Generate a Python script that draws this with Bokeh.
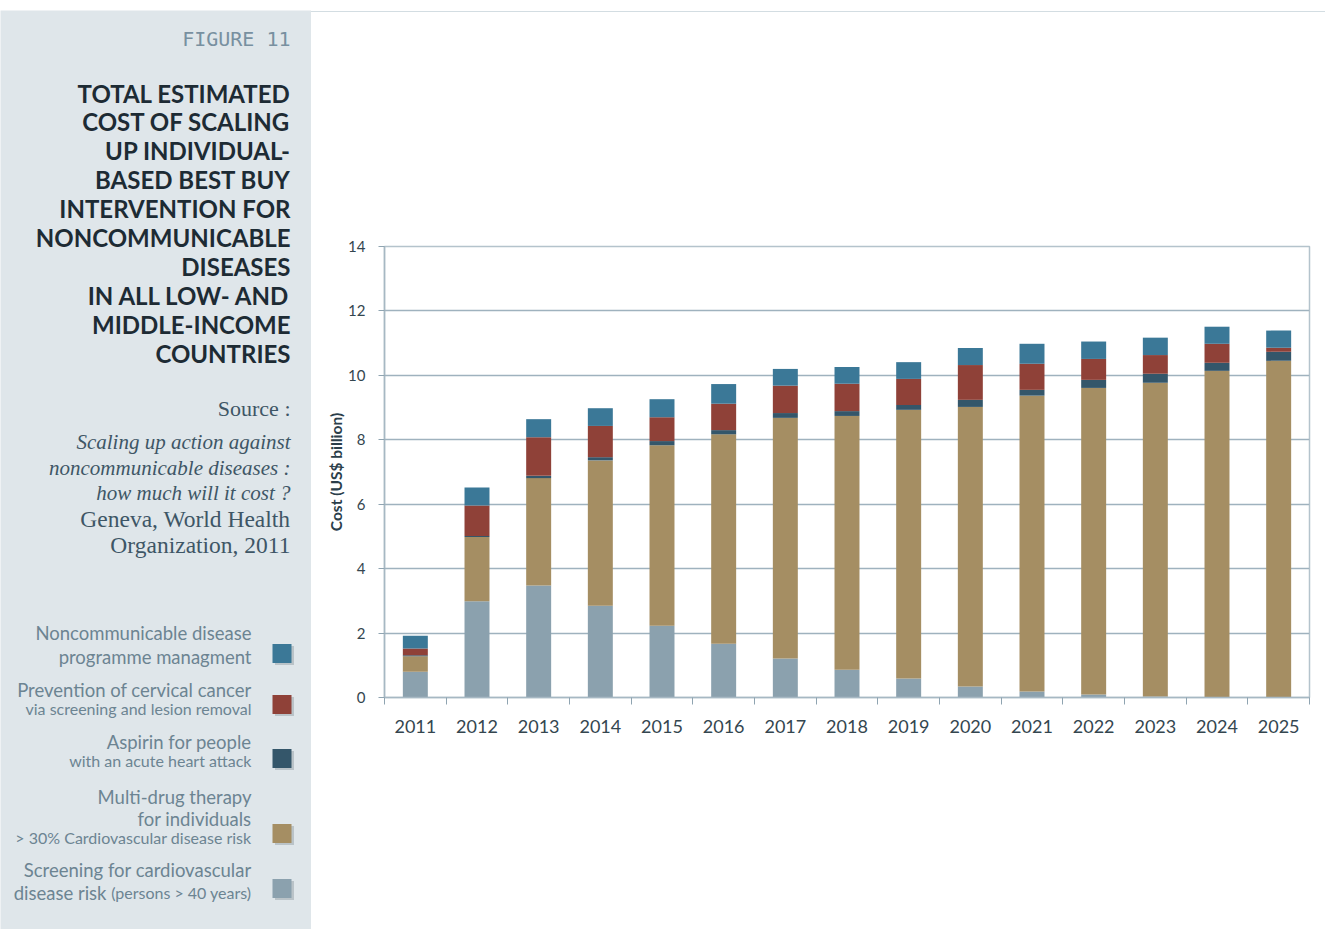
from bokeh.plotting import figure
from bokeh.models import Range1d, FixedTicker, ColumnDataSource, Div
from bokeh.layouts import row, column
from bokeh.embed import file_html
from bokeh.resources import INLINE
from bokeh.core.properties import value

# ---------------- data ----------------
years = ["2011", "2012", "2013", "2014", "2015", "2016", "2017", "2018",
         "2019", "2020", "2021", "2022", "2023", "2024", "2025"]
screening = [0.80, 2.99, 3.48, 2.85, 2.23, 1.67, 1.21, 0.86, 0.59, 0.34, 0.19, 0.09, 0.03, 0.01, 0.00]
multidrug = [0.48, 1.99, 3.33, 4.51, 5.60, 6.50, 7.47, 7.88, 8.34, 8.68, 9.18, 9.52, 9.74, 10.13, 10.45]
aspirin = [0.03, 0.03, 0.07, 0.10, 0.13, 0.13, 0.15, 0.15, 0.15, 0.22, 0.18, 0.25, 0.28, 0.25, 0.28]
cervical = [0.21, 0.95, 1.20, 0.97, 0.74, 0.82, 0.85, 0.85, 0.81, 1.08, 0.81, 0.65, 0.58, 0.59, 0.13]
ncd_mgmt = [0.40, 0.56, 0.56, 0.55, 0.56, 0.61, 0.52, 0.52, 0.52, 0.53, 0.62, 0.54, 0.54, 0.53, 0.53]
y_ticks = [0, 2, 4, 6, 8, 10, 12, 14]

series_keys = ["screening", "multidrug", "aspirin", "cervical", "ncd_mgmt"]
series_colors = ["#8ba1ae", "#a58e63", "#34566a", "#8f4138", "#3b7897"]

title_lines = ["TOTAL ESTIMATED", "COST OF SCALING", "UP INDIVIDUAL-", "BASED BEST BUY",
               "INTERVENTION FOR", "NONCOMMUNICABLE", "DISEASES", "IN ALL LOW- AND",
               "MIDDLE-INCOME", "COUNTRIES"]
source_italic = ["Scaling up action against", "noncommunicable diseases :", "how much will it cost ?"]
source_regular = ["Geneva, World Health", "Organization, 2011"]

PANEL = "#dfe6ea"
GRID = "#9fb2be"
TICKTXT = "#34464f"
LEGTXT = "#6c8492"

# ---------------- main chart ----------------
xs = list(range(len(years)))
src = ColumnDataSource(dict(x=xs, screening=screening, multidrug=multidrug,
                            aspirin=aspirin, cervical=cervical, ncd_mgmt=ncd_mgmt))

p = figure(width=1000, height=917, x_range=Range1d(-0.5, len(years) - 0.5),
           y_range=Range1d(0, 14), output_backend="svg", toolbar_location=None,
           min_border_left=73, min_border_right=2, min_border_top=234, min_border_bottom=232,
           background_fill_color="white", border_fill_color="white")
p.vbar_stack(series_keys, x="x", width=0.405, color=series_colors, line_width=0, source=src)

p.outline_line_color = "#b4c3cc"
p.outline_line_width = 1.5

p.yaxis.ticker = FixedTicker(ticks=y_ticks)
p.ygrid.ticker = FixedTicker(ticks=y_ticks)
p.ygrid.grid_line_color = GRID
p.ygrid.grid_line_width = 1.3
p.xgrid.grid_line_color = None

p.xaxis.ticker = FixedTicker(ticks=xs, minor_ticks=[i - 0.5 for i in range(len(years) + 1)])
p.xaxis.major_label_overrides = {i: y for i, y in zip(xs, years)}
p.xaxis.major_tick_line_color = None
p.xaxis.minor_tick_line_color = "#8fa4b1"
p.xaxis.minor_tick_out = 7
p.xaxis.minor_tick_in = 0
p.xaxis.major_label_text_font = "Lato"
p.xaxis.major_label_text_font_size = "18px"
p.xaxis.major_label_text_color = TICKTXT
p.xaxis.major_label_standoff = 15
p.xaxis.axis_line_color = "#a6b8c3"
p.xaxis.axis_line_width = 1.5

p.yaxis.minor_tick_line_color = None
p.yaxis.major_tick_out = 6
p.yaxis.major_tick_in = 0
p.yaxis.major_tick_line_color = "#8fa4b1"
p.yaxis.axis_line_color = "#a6b8c3"
p.yaxis.axis_line_width = 1.5
p.yaxis.major_label_text_font = "Lato"
p.yaxis.major_label_text_font_size = "15px"
p.yaxis.major_label_text_color = TICKTXT
p.yaxis.major_label_standoff = 13
p.yaxis.axis_label = "Cost (US$ billion)"
p.yaxis.axis_label_text_font = "Lato"
p.yaxis.axis_label_text_font_style = "bold"
p.yaxis.axis_label_text_font_size = "15.5px"
p.yaxis.axis_label_text_color = "#2b3e4a"
p.yaxis.axis_label_standoff = 0

# thin line at the top of the page, right of the panel
topline = Div(text='<div style="height:1.5px;background:#d3dde2;width:1014px;margin-top:9.5px"></div>',
              width=1014, height=12, margin=(0, 0, 0, 0))

# ---------------- left panel ----------------
L = figure(width=311, height=929, x_range=Range1d(0, 311), y_range=Range1d(929, 10),
           output_backend="svg", toolbar_location=None,
           min_border_left=0, min_border_right=0, min_border_top=10, min_border_bottom=0,
           x_axis_location=None, y_axis_location=None, outline_line_color=None,
           background_fill_color=PANEL, border_fill_color="white")
L.grid.visible = False

RX = 290
L.text(x=[RX], y=[38], text=["FIGURE 11"], text_font=value("DejaVu Sans Mono"),
       text_font_size="20px", text_color="#7890a0", text_align="right", text_baseline="middle")

title_y = [92.5 + 28.9 * i for i in range(len(title_lines))]
L.text(x=[RX] * len(title_lines), y=title_y, text=title_lines, text_font=value("Lato"),
       text_font_style="bold", text_font_size="24px", text_color="#1d2b34",
       text_align="right", text_baseline="middle")

L.text(x=[RX], y=[408], text=["Source :"], text_font=value("Liberation Serif"),
       text_font_size="22px", text_color="#3e5666", text_align="right", text_baseline="middle")
L.text(x=[RX] * 3, y=[441, 467, 492], text=source_italic, text_font=value("Liberation Serif"),
       text_font_style="italic", text_font_size="21px", text_color="#3e5666",
       text_align="right", text_baseline="middle")
L.text(x=[RX] * 2, y=[518, 544], text=source_regular, text_font=value("Liberation Serif"),
       text_font_size="23.5px", text_color="#3e5666", text_align="right", text_baseline="middle")

# legend
LX = 251
big = ["Noncommunicable disease", "programme managment", "Prevention of cervical cancer",
       "Aspirin for people", "Multi-drug therapy", "for individuals", "Screening for cardiovascular"]
big_y = [632, 656, 689, 741, 796, 818, 869]
L.text(x=[LX] * len(big), y=big_y, text=big, text_font=value("Lato"), text_font_size="18.5px",
       text_color=LEGTXT, text_align="right", text_baseline="middle")
small = ["via screening and lesion removal", "with an acute heart attack",
         "> 30% Cardiovascular disease risk", "(persons > 40 years)"]
small_y = [708, 760, 837, 892]
L.text(x=[LX] * len(small), y=small_y, text=small, text_font=value("Lato"), text_font_size="16px",
       text_color=LEGTXT, text_align="right", text_baseline="middle")
L.text(x=[106], y=[892], text=["disease risk"], text_font=value("Lato"), text_font_size="18.5px",
       text_color=LEGTXT, text_align="right", text_baseline="middle")

sq_y = [653, 704, 758, 833, 888]
sq_col = [series_colors[4], series_colors[3], series_colors[2], series_colors[1], series_colors[0]]
L.quad(left=[274.5] * 5, right=[293.5] * 5, top=[y - 7.5 for y in sq_y], bottom=[y + 11.5 for y in sq_y],
       color="#8e999f", alpha=0.45, line_width=0)
L.quad(left=[272] * 5, right=[291] * 5, top=[y - 9.5 for y in sq_y], bottom=[y + 9.5 for y in sq_y],
       color=sq_col, line_width=0)

layout = row(L, column(topline, p))
open("out.html", "w").write(file_html(layout, INLINE))
